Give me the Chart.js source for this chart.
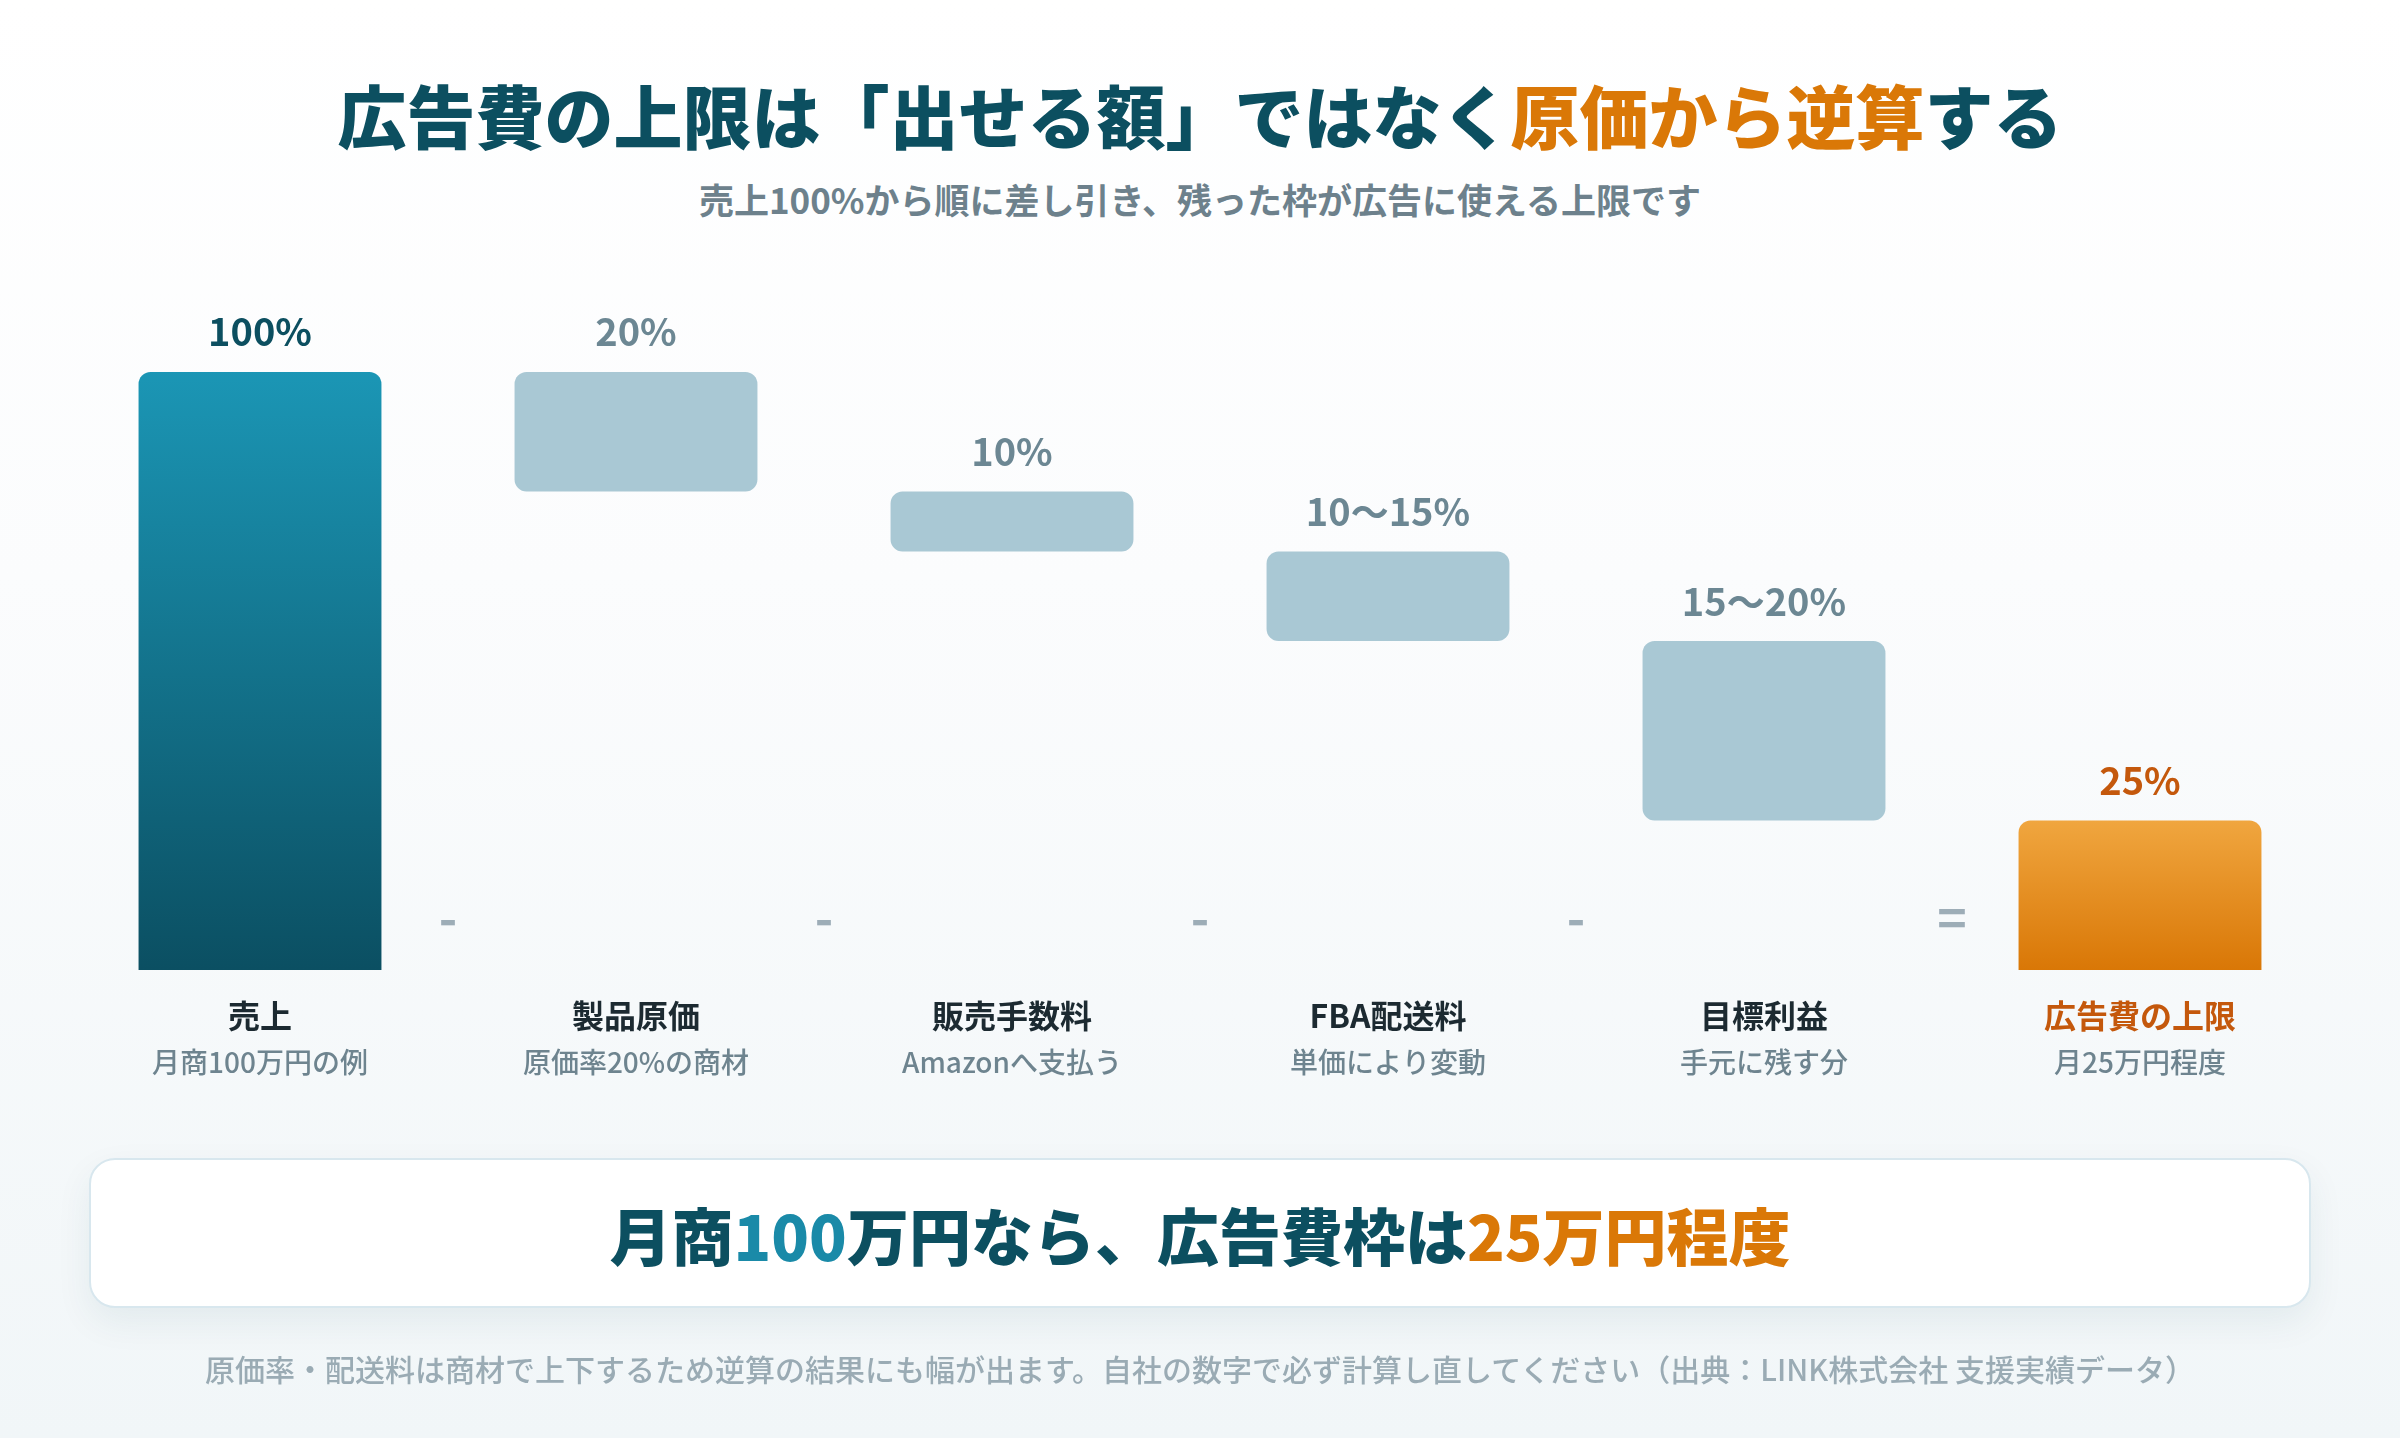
<!DOCTYPE html>
<html lang="ja">
<head>
<meta charset="utf-8">
<script src="https://cdn.jsdelivr.net/npm/chart.js@4/dist/chart.umd.min.js"></script>
<style>
  html, body { margin:0; padding:0; }
  body {
    width:2400px; height:1438px; overflow:hidden; position:relative;
    background: linear-gradient(180deg, #ffffff 0%, #fbfcfd 40%, #f1f6f8 100%);
    font-family: "Noto Sans CJK JP", "Noto Sans", sans-serif;
  }
  #c { position:absolute; left:0; top:0; }
  .t { position:absolute; left:0; width:2400px; text-align:center; white-space:nowrap; }
  #title { top:80px; font-size:69px; line-height:69px; font-weight:900; color:#0c4f60; }
  #title .o { color:#da7807; }
  #sub { top:181px; font-size:35px; line-height:35px; font-weight:700; color:#6d818c; }
  #box {
    position:absolute; left:89px; top:1158px; width:2218px; height:146px;
    background:#fff; border:2px solid #d8e7ee; border-radius:26px;
    box-shadow: 0 14px 36px rgba(20,70,90,0.07);
  }
  #boxtxt { top:1203px; font-size:62px; line-height:62px; font-weight:900; color:#0c4f60; }
  #boxtxt .b { color:#1a8aa8; }
  #boxtxt .o { color:#da7807; }
  #foot { top:1353px; font-size:30px; line-height:30px; font-weight:500; color:#9aabb4; }
</style>
</head>
<body>
<div id="title" class="t">広告費の上限は「出せる額」ではなく<span class="o">原価から逆算</span>する</div>
<div id="sub" class="t">売上100%から順に差し引き、残った枠が広告に使える上限です</div>
<canvas id="c" width="2400" height="1438"></canvas>
<div id="box"></div>
<div id="boxtxt" class="t">月商<span class="b">100</span>万円なら、広告費枠は<span class="o">25万円程度</span></div>
<div id="foot" class="t">原価率・配送料は商材で上下するため逆算の結果にも幅が出ます。自社の数字で必ず計算し直してください（出典：LINK株式会社 支援実績データ）</div>
<script>
const categories = ['売上','製品原価','販売手数料','FBA配送料','目標利益','広告費の上限'];
const subLabels = ['月商100万円の例','原価率20%の商材','Amazonへ支払う','単価により変動','手元に残す分','月25万円程度'];
const barStarts = [0, 80, 70, 55, 25, 0];
const barEnds = [100, 100, 80, 70, 55, 25];
const valueLabels = ['100%','20%','10%','10〜15%','15〜20%','25%'];
const operators = ['-','-','-','-','='];

const FONT = '"Noto Sans CJK JP", "Noto Sans", sans-serif';
const floatData = barStarts.map((s, i) => [s, barEnds[i]]);

function barColor(ctx) {
  const chart = ctx.chart;
  const i = ctx.dataIndex;
  if (i !== 0 && i !== categories.length - 1) return '#a9c8d4';
  const area = chart.chartArea;
  if (!area) return i === 0 ? '#147a93' : '#e48b1f';
  const y = chart.scales.y;
  const top = y.getPixelForValue(barEnds[i]);
  const bot = y.getPixelForValue(barStarts[i]);
  const g = chart.ctx.createLinearGradient(0, top, 0, bot);
  if (i === 0) { g.addColorStop(0, '#1b96b5'); g.addColorStop(1, '#0b4f62'); }
  else { g.addColorStop(0, '#f0a63f'); g.addColorStop(1, '#d97706'); }
  return g;
}

const labelPlugin = {
  id: 'waterfallLabels',
  afterDatasetsDraw(chart) {
    const ctx = chart.ctx;
    const meta = chart.getDatasetMeta(0);
    const xs = chart.scales.x;
    const ys = chart.scales.y;
    ctx.save();
    ctx.textAlign = 'center';
    ctx.textBaseline = 'middle';
    meta.data.forEach((bar, i) => {
      const top = Math.min(bar.y, bar.base);
      ctx.font = '700 38px ' + FONT;
      ctx.fillStyle = i === 0 ? '#0c4f60' : (i === categories.length - 1 ? '#c4580c' : '#6c8793');
      ctx.fillText(valueLabels[i], bar.x, top - 40);
      const baseY = ys.getPixelForValue(0);
      ctx.font = '700 32px ' + FONT;
      ctx.fillStyle = i === categories.length - 1 ? '#c4580c' : '#1c2a31';
      ctx.fillText(categories[i], bar.x, baseY + 46);
      ctx.font = '500 28px ' + FONT;
      ctx.fillStyle = '#6e848f';
      ctx.fillText(subLabels[i], bar.x, baseY + 92);
    });
    operators.forEach((op, i) => {
      const x = (xs.getPixelForValue(i) + xs.getPixelForValue(i + 1)) / 2;
      ctx.font = '700 50px ' + FONT;
      ctx.fillStyle = '#9dadb7';
      ctx.fillText(op, x, ys.getPixelForValue(0) - 52);
    });
    ctx.restore();
  }
};

new Chart(document.getElementById('c'), {
  type: 'bar',
  data: {
    labels: categories,
    datasets: [{
      data: floatData,
      backgroundColor: barColor,
      borderSkipped: false,
      borderRadius: (ctx) => (ctx.dataIndex === 0 || ctx.dataIndex === categories.length - 1)
        ? { topLeft: 12, topRight: 12, bottomLeft: 0, bottomRight: 0 } : 12,
      barPercentage: 0.646,
      categoryPercentage: 1.0
    }]
  },
  options: {
    responsive: false,
    animation: false,
    devicePixelRatio: 1,
    layout: { padding: { left: 72, right: 72, top: 372, bottom: 468 } },
    plugins: { legend: { display: false }, tooltip: { enabled: false }, title: { display: false } },
    scales: {
      x: { display: false },
      y: { display: false, min: 0, max: 100 }
    }
  },
  plugins: [labelPlugin]
});
</script>
</body>
</html>
